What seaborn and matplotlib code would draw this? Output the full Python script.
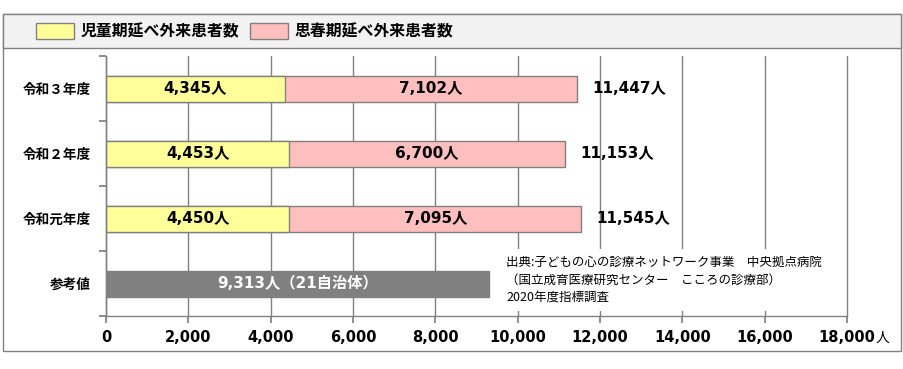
import matplotlib
matplotlib.use("Agg")
import matplotlib.pyplot as plt
import pandas as pd
import seaborn as sns
from matplotlib.patches import Patch, Rectangle

# data
categories = ['令和３年度', '令和２年度', '令和元年度', '参考値']
child = [4345, 4453, 4450, None]
adolescent = [7102, 6700, 7095, None]
reference = [None, None, None, 9313]
reference_note = '（21自治体）'
x_ticks = list(range(0, 18001, 2000))
legend_labels = ['児童期延べ外来患者数', '思春期延べ外来患者数']
source_lines = [
    '出典:子どもの心の診療ネットワーク事業　中央拠点病院',
    '（国立成育医療研究センター　こころの診療部）',
    '2020年度指標調査',
]

palette = {
    'child': '#FFFF99',
    'adolescent': '#FFBFBF',
    'reference': '#808080',
    'line': '#808080',
}

df = pd.DataFrame({'name': categories, 'child': child,
                   'adolescent': adolescent, 'ref': reference})
df['total'] = df['child'] + df['adolescent']

sns.set_theme(style="white")
plt.rcParams['font.family'] = ['DejaVu Sans', 'Noto Sans CJK JP']
plt.rcParams['text.color'] = 'black'
plt.rcParams['xtick.labelcolor'] = 'black'
plt.rcParams['ytick.labelcolor'] = 'black'
cjk = ['Noto Sans CJK JP', 'DejaVu Sans']

W, H = 904, 369
fig = plt.figure(figsize=(W / 100, H / 100), dpi=100)

# outer frame and legend band
fig.add_artist(Rectangle((3 / W, 1 - 351 / H), 898 / W, 337 / H, transform=fig.transFigure,
                         fill=False, edgecolor=palette['line'], lw=1))
fig.add_artist(Rectangle((3 / W, 1 - 48 / H), 898 / W, 34 / H, transform=fig.transFigure,
                         facecolor='#F2F2F2', edgecolor=palette['line'], lw=1))

ax = fig.add_axes([106 / W, 1 - 316 / H, 741 / W, 260 / H])

# stacked bars drawn as overlapping cumulative bars
common = dict(y='name', order=categories, orient='h', width=0.4, saturation=1,
              errorbar=None, edgecolor=palette['line'], linewidth=1, ax=ax)
sns.barplot(data=df, x='total', color=palette['adolescent'], **common)
sns.barplot(data=df, x='child', color=palette['child'], **common)
sns.barplot(data=df, x='ref', color=palette['reference'], **common)

ax.set_xlim(0, 18000)
ax.set_ylim(3.5, -0.5)
ax.set(xlabel='', ylabel='')
ax.set_xticks(x_ticks, labels=[f'{v:,}' for v in x_ticks], fontweight='bold', fontsize=10.5)
ax.set_yticks([i - 0.5 for i in range(len(categories) + 1)], labels=[])
ax.set_yticks(range(len(categories)), labels=categories, minor=True,
              fontweight='bold', fontsize=9.8, family=cjk)
ax.tick_params(axis='y', which='major', length=5, color=palette['line'], direction='out', left=True)
ax.tick_params(axis='y', which='minor', length=0, pad=11)
ax.tick_params(axis='x', length=5, color=palette['line'], direction='out', bottom=True, pad=5)

ax.grid(axis='x', color=palette['line'], lw=1)
for gl in ax.get_xgridlines():
    gl.set_clip_on(False)
ax.set_axisbelow(True)
sns.despine(ax=ax, top=True, right=True)
for side in ['left', 'bottom']:
    ax.spines[side].set_color(palette['line'])
    ax.spines[side].set_linewidth(1)

ax.annotate('人', xy=(1, 0), xycoords='axes fraction', xytext=(36, -22),
            textcoords='offset pixels', ha='center', va='center', fontsize=10, family=cjk)

# value labels
for i, row in df.iterrows():
    if pd.notna(row['child']):
        ax.text(row['child'] / 2, i, f"{int(row['child']):,}人", ha='center', va='center',
                fontweight='bold', fontsize=11)
        ax.text(row['child'] + row['adolescent'] / 2, i, f"{int(row['adolescent']):,}人",
                ha='center', va='center', fontweight='bold', fontsize=11)
        ax.annotate(f"{int(row['total']):,}人", xy=(row['total'], i), xytext=(15, 0),
                    textcoords='offset pixels', ha='left', va='center',
                    fontweight='bold', fontsize=11)
    if pd.notna(row['ref']):
        ax.text(row['ref'] / 2, i, f"{int(row['ref']):,}人{reference_note}", ha='center',
                va='center', fontweight='bold', fontsize=11, color='white')

# source note on a white box covering the grid
ax.text((506 - 106) / 741, (316 - 280) / 260, '\n'.join(source_lines), transform=ax.transAxes,
        ha='left', va='center', fontsize=9, family=cjk, linespacing=1.45,
        bbox=dict(boxstyle='square,pad=0.55', facecolor='white', edgecolor='none'))

handles = [Patch(facecolor=palette['child'], edgecolor=palette['line']),
           Patch(facecolor=palette['adolescent'], edgecolor=palette['line'])]
fig.legend(handles, legend_labels, loc='center left', bbox_to_anchor=(36 / W, 1 - 31 / H),
           ncol=2, frameon=False, borderpad=0, borderaxespad=0, handlelength=2.4,
           handleheight=1.2, handletextpad=0.4, columnspacing=0.7,
           prop=dict(family=cjk, weight='bold', size=11.4))

fig.savefig('out.png', dpi=100, facecolor='white')
